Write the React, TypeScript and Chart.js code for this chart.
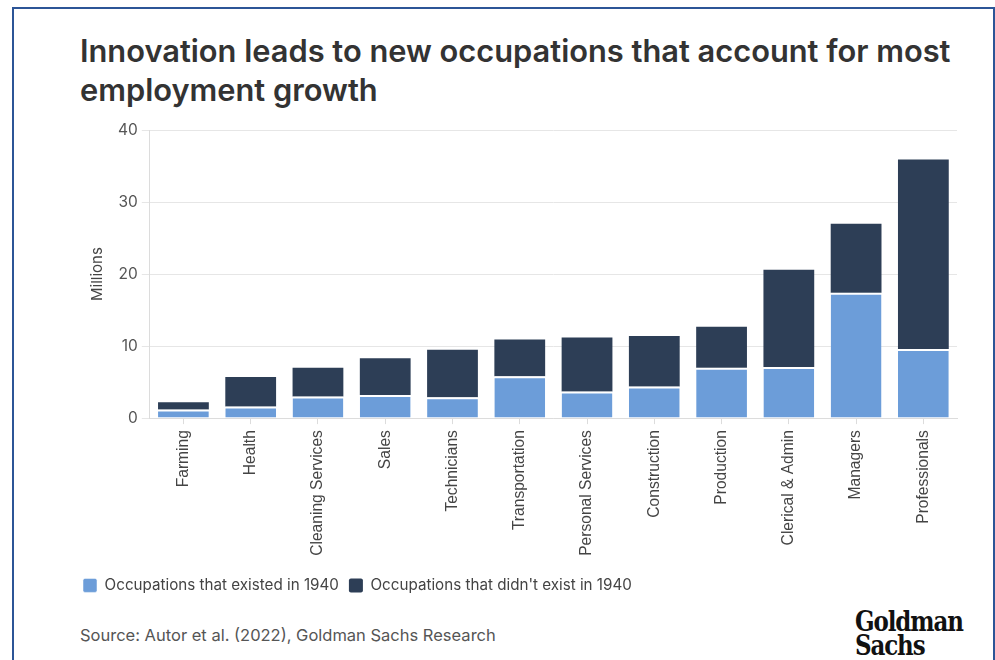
import React, { useEffect, useRef } from "react";
import { Chart, registerables } from "chart.js";

Chart.register(...registerables);

const categories = [
  "Farming",
  "Health",
  "Cleaning Services",
  "Sales",
  "Technicians",
  "Transportation",
  "Personal Services",
  "Construction",
  "Production",
  "Clerical & Admin",
  "Managers",
  "Professionals",
];
const existed1940 = [1.2, 1.6, 3.0, 3.2, 2.9, 5.8, 3.7, 4.4, 7.0, 7.1, 17.4, 9.6];
const notExisted1940 = [1.0, 4.1, 4.0, 5.1, 6.6, 5.1, 7.5, 7.0, 5.7, 13.5, 9.6, 26.3];
const yTicks = [0, 10, 20, 30, 40];
const seriesNames = ["Occupations that existed in 1940", "Occupations that didn't exist in 1940"];

const LIGHT = "#6c9dd9";
const DARK = "#2d3e56";
const UI_FONT = "Inter, 'Noto Sans', sans-serif";

export default function App() {
  const ref = useRef<HTMLCanvasElement | null>(null);

  useEffect(() => {
    if (!ref.current) return;
    const chart = new Chart(ref.current, {
      type: "bar",
      data: {
        labels: categories,
        datasets: [
          {
            label: seriesNames[0],
            data: existed1940,
            backgroundColor: LIGHT,
            borderColor: "#ffffff",
            borderWidth: { top: 2, left: 0, right: 0, bottom: 0 },
            borderSkipped: false,
            categoryPercentage: 1,
            barPercentage: 0.755,
          },
          {
            label: seriesNames[1],
            data: notExisted1940,
            backgroundColor: DARK,
            borderWidth: 0,
            categoryPercentage: 1,
            barPercentage: 0.755,
          },
        ],
      },
      options: {
        animation: false,
        responsive: false,
        maintainAspectRatio: false,
        layout: { padding: { left: 3, right: 8, top: 15, bottom: 0 } },
        plugins: {
          tooltip: { enabled: false },
          title: { display: false },
          legend: {
            display: true,
            position: "bottom",
            align: "start",
            labels: {
              boxWidth: 14,
              boxHeight: 14,
              useBorderRadius: true,
              borderRadius: 2,
              padding: 10,
              color: "#444",
              font: { family: UI_FONT, size: 15.2 },
            },
          },
        },
        scales: {
          x: {
            stacked: true,
            grid: {
              display: true,
              offset: false,
              drawOnChartArea: false,
              drawTicks: true,
              tickLength: 6,
              color: "#dcdcdc",
            },
            border: { display: true, color: "#dcdcdc" },
            ticks: {
              minRotation: 90,
              maxRotation: 90,
              padding: 6,
              color: "#444",
              font: { family: "'Liberation Sans', Arial, sans-serif", size: 15.6 },
            },
            afterFit: (scale: any) => {
              scale.height += 6;
            },
          },
          y: {
            stacked: true,
            min: 0,
            max: 40,
            afterBuildTicks: (scale: any) => {
              scale.ticks = yTicks.map((v) => ({ value: v }));
            },
            grid: { color: "#e6e6e6", tickLength: 8, drawTicks: true },
            border: { display: true, color: "#dcdcdc" },
            ticks: {
              padding: 4,
              color: "#555",
              font: { family: UI_FONT, size: 15.5 },
            },
            title: {
              display: true,
              text: "Millions",
              color: "#444",
              padding: { top: 15, bottom: 8 },
              font: { family: UI_FONT, size: 15 },
            },
          },
        },
      },
    });
    return () => chart.destroy();
  }, []);

  return (
    <div
      style={{
        position: "fixed",
        left: 0,
        top: 0,
        width: 995,
        height: 660,
        background: "#fff",
        overflow: "hidden",
      }}
    >
      <div
        style={{
          position: "absolute",
          left: 12,
          top: 7,
          width: 979,
          height: 700,
          border: "2px solid #2c5597",
          borderBottom: "none",
        }}
      />
      <div
        style={{
          position: "absolute",
          left: 80,
          top: 31,
          width: 910,
          fontFamily: UI_FONT,
          fontWeight: 600,
          fontSize: 30.8,
          lineHeight: "39px",
          color: "#333",
          whiteSpace: "nowrap",
        }}
      >
        Innovation leads to new occupations that account for most
        <br />
        employment growth
      </div>
      <div style={{ position: "absolute", left: 70, top: 115, width: 895, height: 488 }}>
        <canvas ref={ref} width={895} height={488} style={{ width: 895, height: 488 }} />
      </div>
      <div
        style={{
          position: "absolute",
          left: 80,
          top: 625,
          fontFamily: UI_FONT,
          fontSize: 16.5,
          color: "#555",
          whiteSpace: "nowrap",
        }}
      >
        Source: Autor et al. (2022), Goldman Sachs Research
      </div>
      <div
        style={{
          position: "absolute",
          left: 855,
          top: 610,
          fontFamily: "'DejaVu Serif', serif",
          fontWeight: 700,
          fontStretch: "condensed",
          fontSize: 28,
          lineHeight: "24px",
          color: "#111",
          letterSpacing: "-1.2px",
          transform: "scaleX(0.91)",
          transformOrigin: "left top",
        }}
      >
        Goldman
        <br />
        Sachs
      </div>
    </div>
  );
}
